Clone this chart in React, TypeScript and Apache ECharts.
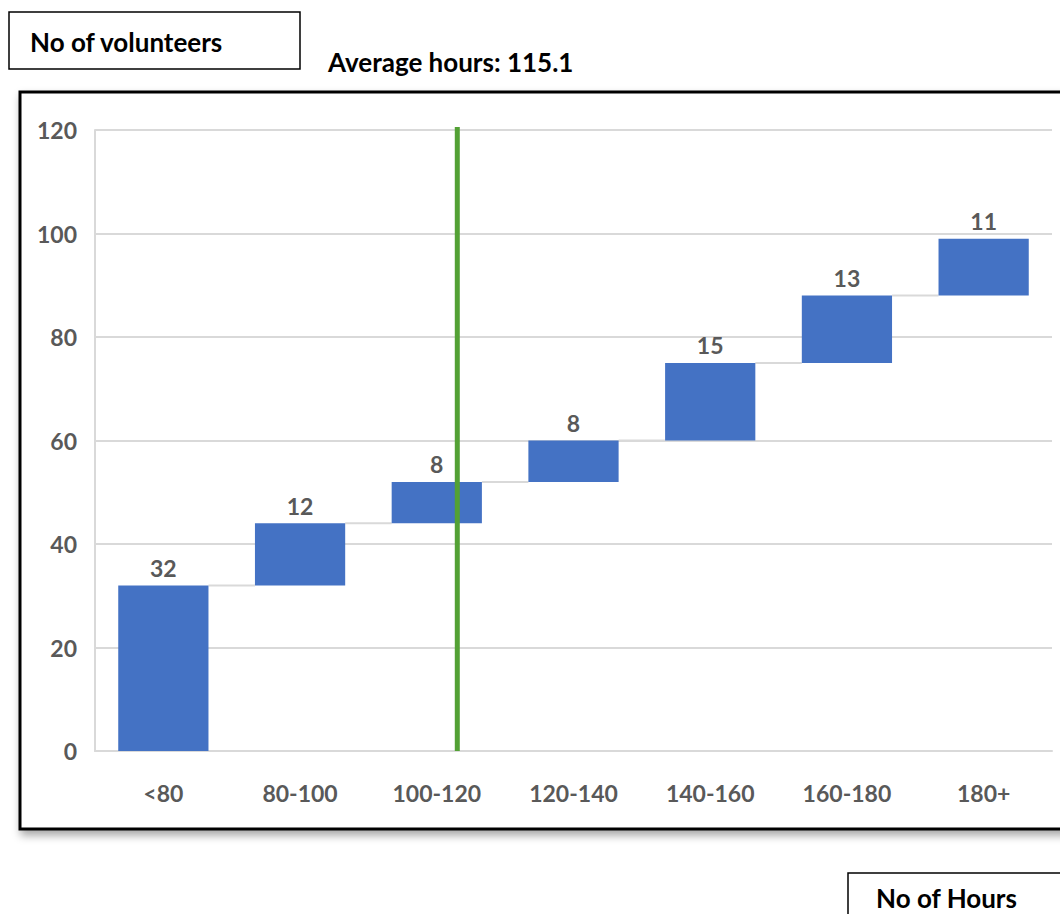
import React, { useEffect, useRef } from "react";
import * as echarts from "echarts";

const categories = ["<80", "80-100", "100-120", "120-140", "140-160", "160-180", "180+"];
const volunteers = [32, 12, 8, 8, 15, 13, 11];
const yMin = 0;
const yMax = 120;
const yInterval = 20;
const averageHours = 115.1;
// position of the average line in category units (index + fraction of a band)
const avgCategoryIndex = 2;
const avgBandOffset = 0.15;

const FONT = "Lato";
const LABEL_COLOR = "#595959";
const BAR_COLOR = "#4472C4";
const BAR_RATIO = 0.66;

export default function App() {
  const ref = useRef<HTMLDivElement>(null);

  useEffect(() => {
    if (!ref.current) return;
    const chart = echarts.init(ref.current, null, { renderer: "svg" });

    const cumulative: number[] = [];
    volunteers.reduce((acc, v) => {
      const c = acc + v;
      cumulative.push(c);
      return c;
    }, 0);
    const bases = cumulative.map((c, i) => c - volunteers[i]);
    const connectorData = cumulative.slice(0, -1).map((c, i) => [i, c]);

    chart.setOption({
      animation: false,
      grid: { left: 95, right: 8, top: 130, bottom: 163, containLabel: false },
      xAxis: {
        type: "category",
        data: categories,
        axisLine: { show: true, lineStyle: { color: "#d9d9d9", width: 2 } },
        axisTick: { show: false },
        axisLabel: {
          color: LABEL_COLOR,
          fontFamily: FONT,
          fontWeight: "bold",
          fontSize: 23,
          margin: 30,
        },
      },
      yAxis: {
        type: "value",
        min: yMin,
        max: yMax,
        interval: yInterval,
        axisLine: { show: true, lineStyle: { color: "#d9d9d9", width: 2 } },
        axisTick: { show: false },
        splitLine: { lineStyle: { color: "#d9d9d9", width: 2 } },
        axisLabel: {
          color: LABEL_COLOR,
          fontFamily: FONT,
          fontWeight: "bold",
          fontSize: 23,
          margin: 18,
        },
      },
      graphic: [
        {
          type: "rect",
          z: -10,
          shape: { x: 20, y: 92, width: 1060, height: 737 },
          style: {
            fill: "#ffffff",
            stroke: "#000000",
            lineWidth: 3,
            shadowBlur: 8,
            shadowOffsetY: 5,
            shadowOffsetX: 2,
            shadowColor: "rgba(0,0,0,0.35)",
          },
        },
        {
          type: "rect",
          shape: { x: 9, y: 12, width: 291, height: 57 },
          style: { fill: "#ffffff", stroke: "#000000", lineWidth: 1.5 },
        },
        {
          type: "text",
          x: 30,
          y: 42,
          style: {
            text: "No of volunteers",
            fill: "#000000",
            font: `bold 26px ${FONT}`,
            verticalAlign: "middle",
          },
        },
        {
          type: "text",
          x: 328,
          y: 62,
          style: {
            text: `Average hours: ${averageHours}`,
            fill: "#000000",
            font: `bold 26px ${FONT}`,
            verticalAlign: "middle",
          },
        },
        {
          type: "rect",
          shape: { x: 848, y: 873, width: 240, height: 80 },
          style: { fill: "#ffffff", stroke: "#000000", lineWidth: 1.5 },
        },
        {
          type: "text",
          x: 876,
          y: 898,
          style: {
            text: "No of Hours",
            fill: "#000000",
            font: `bold 26px ${FONT}`,
            verticalAlign: "middle",
          },
        },
      ],
      series: [
        {
          type: "custom",
          name: "connectors",
          z: 1,
          silent: true,
          data: connectorData,
          renderItem: (params: any, api: any) => {
            const i = api.value(0);
            const c = api.value(1);
            const p = api.coord([i, c]);
            const band = api.size([1, 0])[0];
            const half = (band * BAR_RATIO) / 2;
            return {
              type: "line",
              shape: { x1: p[0] + half, y1: p[1], x2: p[0] + band - half, y2: p[1] },
              style: { stroke: "#d9d9d9", lineWidth: 2 },
            };
          },
        },
        {
          type: "bar",
          stack: "wf",
          silent: true,
          barWidth: `${BAR_RATIO * 100}%`,
          itemStyle: { color: "transparent" },
          data: bases,
          z: 2,
        },
        {
          type: "bar",
          stack: "wf",
          barWidth: `${BAR_RATIO * 100}%`,
          itemStyle: { color: BAR_COLOR },
          data: volunteers,
          z: 2,
          label: {
            show: true,
            position: "top",
            distance: 6,
            color: LABEL_COLOR,
            fontFamily: FONT,
            fontWeight: "bold",
            fontSize: 23,
          },
        },
        {
          type: "custom",
          name: "average",
          z: 5,
          silent: true,
          data: [[avgCategoryIndex, yMin, yMax]],
          renderItem: (params: any, api: any) => {
            const p0 = api.coord([api.value(0), api.value(1)]);
            const p1 = api.coord([api.value(0), api.value(2)]);
            const band = api.size([1, 0])[0];
            const x = p0[0] + avgBandOffset * band;
            return {
              type: "line",
              shape: { x1: x, y1: p0[1], x2: x, y2: p1[1] - 3 },
              style: { stroke: "#53A135", lineWidth: 5 },
            };
          },
        },
      ],
    });

    return () => chart.dispose();
  }, []);

  return (
    <div
      ref={ref}
      style={{ position: "absolute", left: 0, top: 0, width: 1060, height: 914 }}
    />
  );
}
